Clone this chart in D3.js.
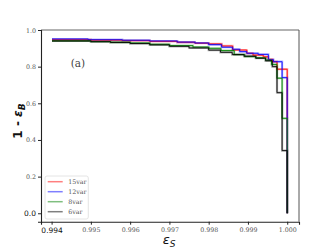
<!DOCTYPE html>
<html><head><meta charset="utf-8">
<script src="https://cdn.jsdelivr.net/npm/d3@7"></script>
<style>html,body{margin:0;padding:0;background:#fff;}svg{display:block;}</style>
</head><body>
<svg id="chart" width="333" height="250"></svg>
<script>
const seriesNames = ["15var", "12var", "8var", "6var"];
const seriesColors = ["#ff0000", "#0000ff", "#008000", "#000000"];
const red15 = [[0.99401,0.947],[0.9950,0.945],[0.9958,0.942],[0.9965,0.938],[0.9972,0.933],[0.99765,0.928],[0.99800,0.924],[0.99833,0.913],[0.99861,0.891],[0.99897,0.873],[0.99913,0.863],[0.99939,0.854],[0.99952,0.840],[0.99963,0.827],[0.99974,0.786],[1.0,0.0]];
const blue12 = [[0.99401,0.951],[0.99493,0.947],[0.9958,0.944],[0.9965,0.940],[0.9972,0.934],[0.99765,0.929],[0.99800,0.920],[0.99833,0.906],[0.99861,0.895],[0.99879,0.882],[0.99897,0.873],[0.99926,0.867],[0.99952,0.838],[0.99965,0.827],[0.99987,0.740],[1.0,0.0]];
const green8 = [[0.99401,0.941],[0.9950,0.937],[0.9955,0.933],[0.9960,0.929],[0.9965,0.922],[0.9970,0.915],[0.99760,0.907],[0.99800,0.900],[0.99831,0.888],[0.99865,0.866],[0.99892,0.855],[0.99920,0.848],[0.99945,0.836],[0.99960,0.812],[0.99974,0.737],[0.99987,0.518],[1.0,0.0]];
const black6 = [[0.99401,0.940],[0.9950,0.936],[0.9955,0.932],[0.9960,0.926],[0.9965,0.919],[0.9970,0.911],[0.9975,0.902],[0.9980,0.890],[0.99830,0.878],[0.99860,0.866],[0.99890,0.857],[0.99920,0.846],[0.99945,0.832],[0.99962,0.800],[0.99974,0.658],[0.99987,0.342],[1.0,0.0]];
const xTicks = [0.994, 0.995, 0.996, 0.997, 0.998, 0.999, 1.000];
const yTicks = [0.0, 0.2, 0.4, 0.6, 0.8, 1.0];

const seriesData = [red15, blue12, green8, black6];
const svg = d3.select("#chart");
const L = 41, R = 299, T = 30, B = 221.7;
const x = d3.scaleLinear().domain([0.99373, 1.0003]).range([L, R]);
const y = d3.scaleLinear().domain([-0.046, 1.0]).range([B, T]);

const line = d3.line().x(d => x(d[0])).y(d => y(d[1])).curve(d3.curveStepAfter);
const g = svg.append("g");
seriesData.forEach((s, i) => {
  g.append("path").attr("d", line(s)).attr("fill", "none")
    .attr("stroke", seriesColors[i]).attr("stroke-opacity", 0.3).attr("stroke-width", 2.2);
});
seriesData.forEach((s, i) => {
  g.append("path").attr("d", line(s)).attr("fill", "none")
    .attr("stroke", seriesColors[i]).attr("stroke-opacity", 0.85).attr("stroke-width", 1);
});

svg.append("line").attr("x1", L).attr("x2", R).attr("y1", T).attr("y2", T).attr("stroke", "#999").attr("stroke-width", 1.6);
svg.append("line").attr("x1", R).attr("x2", R).attr("y1", T).attr("y2", B).attr("stroke", "#555").attr("stroke-width", 1);

const xAxis = svg.append("g").attr("transform", `translate(0,${B})`)
  .call(d3.axisBottom(x).tickValues(xTicks).tickFormat(d3.format(".3f")).tickSize(3).tickPadding(3));
const yAxis = svg.append("g").attr("transform", `translate(${L},0)`)
  .call(d3.axisLeft(y).tickValues(yTicks).tickFormat(d3.format(".1f")).tickSize(3).tickPadding(2));
[xAxis, yAxis].forEach(a => {
  a.select(".domain").attr("stroke", "#222").attr("stroke-width", 1.1);
  a.selectAll(".tick line").attr("stroke", "#222");
  a.selectAll(".tick text").attr("font-family", "'DejaVu Serif', serif").attr("font-size", 6.3).attr("fill", "#555");
});
xAxis.selectAll(".tick text").filter(d => d === 0.994)
  .attr("font-family", "'DejaVu Sans', sans-serif").attr("font-size", 7.5).attr("fill", "#111");
yAxis.selectAll(".tick text").filter(d => d === 0)
  .attr("font-family", "'DejaVu Sans', sans-serif").attr("font-size", 7.5).attr("fill", "#111");

const yl = svg.append("text").attr("transform", "translate(22,121) rotate(-90)")
  .attr("text-anchor", "middle").attr("font-family", "'DejaVu Sans', sans-serif")
  .attr("font-weight", "bold").attr("font-size", 12).attr("fill", "#111");
yl.append("tspan").text("1 - ");
yl.append("tspan").attr("font-style", "italic").text("ε");
yl.append("tspan").attr("dy", 3).attr("font-size", 9).attr("font-style", "italic").text("B");
const xl = svg.append("text").attr("x", 169).attr("y", 244)
  .attr("text-anchor", "middle").attr("font-family", "'DejaVu Sans', sans-serif")
  .attr("font-size", 13).attr("fill", "#111");
xl.append("tspan").attr("font-style", "italic").text("ε");
xl.append("tspan").attr("dy", 3).attr("font-size", 9).attr("font-style", "italic").text("S");

svg.append("text").attr("x", 78).attr("y", 67).attr("text-anchor", "middle")
  .attr("font-family", "'DejaVu Serif', serif").attr("font-size", 10.5).attr("fill", "#444").text("(a)");

const lg = svg.append("g");
lg.append("rect").attr("x", 45).attr("y", 176).attr("width", 43.3).attr("height", 43)
  .attr("rx", 2).attr("fill", "#fff").attr("fill-opacity", 0.8).attr("stroke", "#ddd").attr("stroke-width", 0.8);
seriesNames.forEach((n, i) => {
  const yy = 181.7 + i * 10;
  lg.append("line").attr("x1", 47.7).attr("x2", 62.7).attr("y1", yy).attr("y2", yy)
    .attr("stroke", seriesColors[i]).attr("stroke-opacity", 0.5).attr("stroke-width", 1.5);
  lg.append("text").attr("x", 68.3).attr("y", yy + 2.2).attr("font-family", "'DejaVu Serif', serif")
    .attr("font-size", 6.3).attr("fill", "#555").text(n);
});
</script>
</body></html>
